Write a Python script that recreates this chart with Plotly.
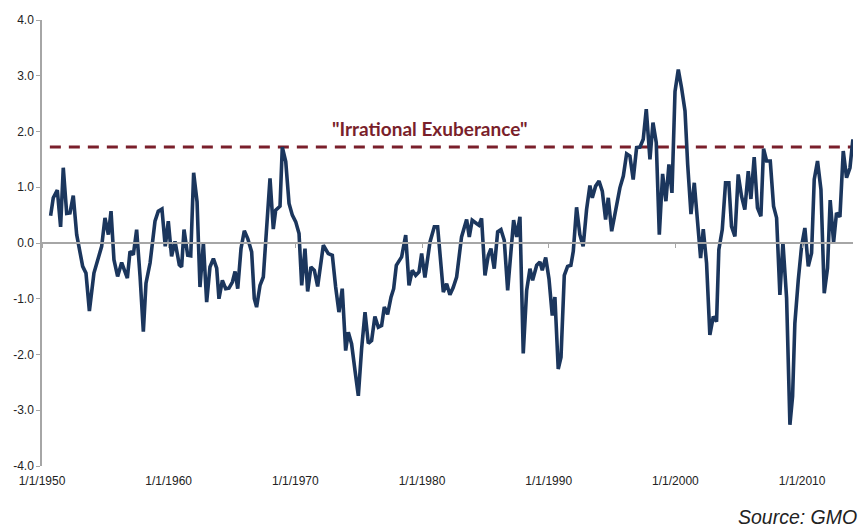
import pandas as pd
import plotly.graph_objects as go

years = [
    1950.68, 1950.89, 1951.21, 1951.47, 1951.68, 1951.95, 1952.21, 1952.47, 1952.74, 1953.21,
    1953.47, 1953.74, 1954.10, 1954.71, 1954.97, 1955.24, 1955.45, 1955.68, 1955.97, 1956.29,
    1956.74, 1956.95, 1957.21, 1957.47, 1957.74, 1958.00, 1958.21, 1958.53, 1958.92, 1959.18,
    1959.47, 1959.73, 1959.97, 1960.23, 1960.50, 1960.84, 1961.02, 1961.21, 1961.50, 1961.74,
    1961.97, 1962.24, 1962.47, 1962.74, 1963.00, 1963.26, 1963.53, 1963.79, 1963.97, 1964.24,
    1964.50, 1964.76, 1965.03, 1965.24, 1965.45, 1965.71, 1965.97, 1966.24, 1966.55, 1966.76,
    1966.94, 1967.21, 1967.47, 1968.00, 1968.26, 1968.45, 1968.79, 1968.97, 1969.24, 1969.50,
    1969.76, 1970.03, 1970.29, 1970.50, 1970.76, 1970.97, 1971.23, 1971.50, 1971.76, 1972.21,
    1972.60, 1972.92, 1973.18, 1973.44, 1973.70, 1973.97, 1974.18, 1974.44, 1974.71, 1974.97,
    1975.23, 1975.50, 1975.76, 1976.02, 1976.28, 1976.55, 1976.81, 1977.02, 1977.28, 1977.55,
    1977.76, 1977.97, 1978.39, 1978.71, 1978.97, 1979.23, 1979.50, 1979.76, 1979.97, 1980.23,
    1980.63, 1980.97, 1981.23, 1981.42, 1981.68, 1981.94, 1982.20, 1982.46, 1982.73, 1983.12,
    1983.52, 1983.73, 1983.96, 1984.30, 1984.49, 1984.70, 1984.97, 1985.23, 1985.44, 1985.70,
    1985.97, 1986.23, 1986.49, 1986.76, 1987.02, 1987.23, 1987.47, 1987.73, 1987.99, 1988.26,
    1988.52, 1988.73, 1989.05, 1989.31, 1989.49, 1989.76, 1990.02, 1990.28, 1990.49, 1990.75,
    1990.97, 1991.23, 1991.49, 1991.75, 1991.94, 1992.20, 1992.46, 1992.72, 1992.99, 1993.25,
    1993.44, 1993.70, 1993.97, 1994.23, 1994.49, 1994.70, 1994.97, 1995.28, 1995.62, 1995.89,
    1996.15, 1996.41, 1996.67, 1996.94, 1997.20, 1997.46, 1997.70, 1997.99, 1998.23, 1998.49,
    1998.73, 1998.99, 1999.25, 1999.49, 1999.73, 1999.97, 2000.23, 2000.49, 2000.76, 2000.97,
    2001.23, 2001.49, 2001.78, 2001.99, 2002.20, 2002.46, 2002.72, 2002.99, 2003.25, 2003.43,
    2003.70, 2003.96, 2004.22, 2004.43, 2004.70, 2004.96, 2005.22, 2005.48, 2005.75, 2005.96,
    2006.22, 2006.48, 2006.75, 2006.96, 2007.20, 2007.49, 2007.75, 2007.99, 2008.25, 2008.49,
    2008.78, 2009.04, 2009.25, 2009.43, 2009.70, 2009.96, 2010.22, 2010.49, 2010.75, 2010.96,
    2011.22, 2011.49, 2011.75, 2012.01, 2012.22, 2012.49, 2012.72, 2012.99, 2013.25, 2013.51,
    2013.78, 2014.01,
]
values = [
    0.49, 0.81, 0.95, 0.29, 1.35, 0.53, 0.54, 0.85, 0.15, -0.42,
    -0.54, -1.22, -0.54, -0.06, 0.45, 0.15, 0.57, -0.30, -0.60, -0.35,
    -0.63, -0.15, -0.21, 0.24, -0.60, -1.59, -0.72, -0.36, 0.39, 0.57,
    0.61, -0.06, 0.39, -0.24, 0.03, -0.39, -0.43, 0.24, -0.22, -0.23,
    1.26, 0.74, -0.79, 0.00, -1.06, -0.43, -0.28, -0.45, -1.00, -0.67,
    -0.82, -0.81, -0.70, -0.51, -0.82, -0.10, 0.22, 0.08, -0.16, -1.00,
    -1.15, -0.76, -0.61, 1.16, 0.25, 0.59, 0.66, 1.72, 1.46, 0.71,
    0.50, 0.38, 0.17, -0.76, -0.10, -0.87, -0.43, -0.49, -0.78, -0.04,
    -0.19, -0.22, -0.79, -1.24, -0.82, -1.93, -1.60, -1.81, -2.29, -2.74,
    -1.90, -1.24, -1.80, -1.75, -1.32, -1.51, -1.48, -1.15, -1.28, -0.97,
    -0.82, -0.40, -0.25, 0.14, -0.76, -0.49, -0.58, -0.52, -0.19, -0.62,
    0.02, 0.29, 0.29, -0.25, -0.88, -0.73, -0.93, -0.80, -0.61, 0.11,
    0.42, 0.11, 0.41, 0.35, 0.32, 0.44, -0.58, -0.22, -0.10, -0.46,
    0.20, 0.24, 0.05, -0.85, -0.16, 0.41, 0.11, 0.47, -1.98, -0.85,
    -0.46, -0.67, -0.40, -0.34, -0.49, -0.26, -0.64, -1.30, -0.97, -2.26,
    -2.05, -0.58, -0.42, -0.40, -0.15, 0.64, 0.15, -0.06, 0.60, 1.03,
    0.81, 1.02, 1.11, 0.93, 0.42, 0.81, 0.21, 0.57, 0.99, 1.20,
    1.60, 1.56, 1.14, 1.71, 1.72, 1.86, 2.40, 1.50, 2.16, 1.80,
    0.15, 1.24, 0.75, 1.41, 0.90, 2.72, 3.11, 2.78, 2.37, 1.41,
    0.52, 1.08, 0.30, -0.27, 0.25, -0.36, -1.65, -1.32, -1.41, -0.12,
    0.24, 1.08, 1.08, 0.30, 0.12, 1.23, 0.84, 0.60, 1.29, 0.79,
    1.54, 0.63, 0.48, 1.69, 1.47, 1.47, 0.66, 0.45, -0.93, 0.01,
    -0.99, -3.26, -2.75, -1.44, -0.66, -0.06, 0.27, -0.42, -0.18, 1.14,
    1.47, 0.96, -0.90, -0.45, 0.77, 0.01, 0.54, 0.47, 1.65, 1.17,
    1.35, 1.86,
]

threshold = 1.72
threshold_label = '"Irrational Exuberance"'
tick_years = [1950, 1960, 1970, 1980, 1990, 2000, 2010]
tick_labels = ["1/1/1950", "1/1/1960", "1/1/1970", "1/1/1980", "1/1/1990", "1/1/2000", "1/1/2010"]
y_ticks = [-4, -3, -2, -1, 0, 1, 2, 3, 4]
y_tick_labels = ["-4.0", "-3.0", "-2.0", "-1.0", "0.0", "1.0", "2.0", "3.0", "4.0"]
source_text = "Source: GMO"


def to_date(y):
    yr = int(y)
    start = pd.Timestamp(year=yr, month=1, day=1)
    return start + pd.Timedelta(days=(y - yr) * 365.25)


dates = [to_date(y) for y in years]
tick_dates = [pd.Timestamp(year=y, month=1, day=1) for y in tick_years]
x_range = [pd.Timestamp("1950-01-01"), to_date(2014.02)]
line_start = to_date(1950.62)

fig = go.Figure()

fig.add_trace(go.Scatter(
    x=[line_start, to_date(2013.95)], y=[threshold, threshold],
    mode="lines", line=dict(color="#7A1F2B", width=3, dash="11px,8px"),
    hoverinfo="skip", showlegend=False,
))

fig.add_trace(go.Scatter(
    x=dates, y=values, mode="lines",
    line=dict(color="#1B365D", width=3.6),
    showlegend=False,
))

gray = "#A6A6A6"
fig.update_layout(
    width=860, height=519,
    margin=dict(l=34, r=15, t=12, b=61),
    plot_bgcolor="white", paper_bgcolor="white",
    font=dict(family="Liberation Sans, Arial, sans-serif", size=12, color="#222222"),
    xaxis=dict(
        type="date", range=x_range, automargin=False,
        tickvals=tick_dates, ticktext=tick_labels,
        showgrid=False, zeroline=False, showline=False,
        ticks="outside", ticklen=4, tickcolor="rgba(0,0,0,0)",
        tickfont=dict(size=12, color="#222222"),
    ),
    xaxis2=dict(
        type="date", range=x_range, overlaying="x", anchor="free", position=0.5,
        side="bottom", tickvals=tick_dates, showticklabels=False, automargin=False,
        showline=True, linecolor=gray, linewidth=1.5,
        ticks="outside", ticklen=4, tickcolor=gray, tickwidth=1,
        showgrid=False, zeroline=False,
    ),
    yaxis=dict(
        range=[-4, 4], tickvals=y_ticks, ticktext=y_tick_labels, automargin=False,
        showgrid=False, zeroline=False,
        showline=True, linecolor=gray, linewidth=1.5,
        ticks="outside", ticklen=4, tickcolor=gray,
        tickfont=dict(size=12, color="#222222"),
    ),
)

# invisible trace to activate xaxis2
fig.add_trace(go.Scatter(x=[dates[0]], y=[0], xaxis="x2", mode="markers",
                         marker=dict(opacity=0), hoverinfo="skip", showlegend=False))

fig.add_annotation(
    x=to_date(1980.6), y=threshold, yshift=19, text="<b>" + threshold_label + "</b>",
    showarrow=False, font=dict(family="Lato, Liberation Sans, sans-serif", size=19, color="#7A1F2B"),
)

fig.add_annotation(
    xref="paper", yref="paper", x=1.007, y=-0.114, xanchor="right", yanchor="middle",
    text="<i>" + source_text + "</i>", showarrow=False,
    font=dict(size=19.5, color="#222222"),
)

fig.write_html("out.html")
